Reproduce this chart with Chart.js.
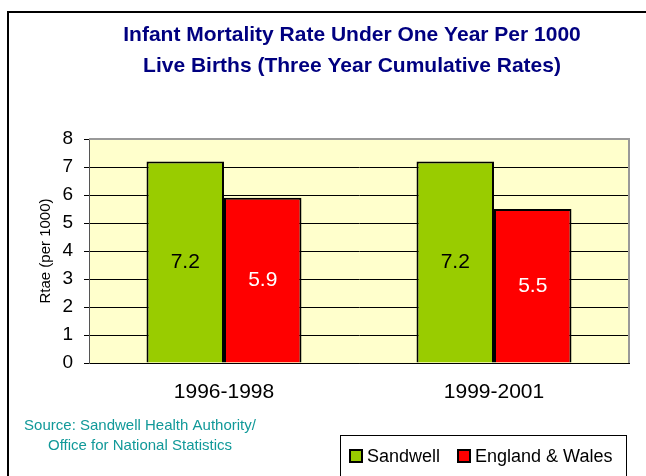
<!DOCTYPE html>
<html>
<head>
<meta charset="utf-8">
<script src="https://cdn.jsdelivr.net/npm/chart.js@4.4.1/dist/chart.umd.min.js"></script>
<style>
  body { margin: 0; background: #fff; }
  #wrap { width: 646px; height: 476px; }
</style>
</head>
<body>
<div id="wrap"><canvas id="myChart" width="646" height="476"></canvas></div>
<script>
//chart data
var periods = ['1996-1998', '1999-2001'];
var sandwellRates = [7.2, 7.2];
var englandWalesRates = [5.9, 5.5];
var seriesNames = ['Sandwell', 'England & Wales'];
var seriesColors = ['#99CC00', '#FF0000'];
var labelColors = ['#000000', '#FFFFFF'];
var yTicks = [0, 1, 2, 3, 4, 5, 6, 7, 8];

var titleLines = ['Infant Mortality Rate Under One Year Per 1000', 'Live Births (Three Year Cumulative Rates)'];
var sourceLines = ['Source: Sandwell Health Authority/', 'Office for National Statistics'];

var fontName = '"Liberation Sans", Arial, sans-serif';

//frame, title, source text and legend drawn around the chart
var decorations = {
  id: 'decorations',
  beforeDraw: (chart) => {
    var ctx = chart.ctx;
    var a = chart.chartArea;
    ctx.save();
    ctx.fillStyle = '#FFFFCC';
    ctx.fillRect(a.left, a.top, a.right - a.left, a.bottom - a.top);
    ctx.restore();
  },
  beforeDatasetsDraw: (chart) => {
    var ctx = chart.ctx;
    var a = chart.chartArea;
    ctx.save();
    ctx.strokeStyle = '#999999';
    ctx.lineWidth = 2;
    ctx.beginPath();
    ctx.moveTo(a.left, a.top);
    ctx.lineTo(a.right, a.top);
    ctx.lineTo(a.right, a.bottom);
    ctx.stroke();
    ctx.restore();
  },
  afterDraw: (chart) => {
    var ctx = chart.ctx;
    ctx.save();
    //outer frame
    ctx.strokeStyle = '#000';
    ctx.lineWidth = 2;
    ctx.beginPath();
    ctx.moveTo(8, 480);
    ctx.lineTo(8, 12);
    ctx.lineTo(650, 12);
    ctx.stroke();

    //title
    ctx.fillStyle = '#000080';
    ctx.font = 'bold 21px ' + fontName;
    ctx.textAlign = 'center';
    ctx.textBaseline = 'middle';
    ctx.fillText(titleLines[0], 352, 35);
    ctx.fillText(titleLines[1], 352, 66);

    //source
    ctx.fillStyle = '#119999';
    ctx.font = '15px ' + fontName;
    ctx.fillText(sourceLines[0], 140, 426);
    ctx.fillText(sourceLines[1], 140, 446);

    //legend
    ctx.strokeStyle = '#000';
    ctx.lineWidth = 1;
    ctx.strokeRect(340.5, 435.5, 286, 60);
    var lx = [350, 458];
    ctx.font = '18px ' + fontName;
    ctx.textAlign = 'left';
    for (var i = 0; i < chart.data.datasets.length; i++) {
      var ds = chart.data.datasets[i];
      ctx.fillStyle = ds.backgroundColor;
      ctx.fillRect(lx[i], 450, 12, 12);
      ctx.lineWidth = 2;
      ctx.strokeRect(lx[i], 450, 12, 12);
      ctx.fillStyle = '#000';
      ctx.fillText(ds.label, lx[i] + 17, 457);
    }
    ctx.restore();
  },
  afterDatasetsDraw: (chart) => {
    var ctx = chart.ctx;
    ctx.save();
    ctx.font = '21px ' + fontName;
    ctx.textAlign = 'center';
    ctx.textBaseline = 'middle';
    chart.data.datasets.forEach(function (ds, i) {
      chart.getDatasetMeta(i).data.forEach(function (bar, j) {
        ctx.fillStyle = labelColors[i];
        ctx.fillText(ds.data[j].toFixed(1), bar.x, (bar.y + bar.base) / 2);
      });
    });
    ctx.restore();
  }
};

var ctx = document.getElementById('myChart').getContext('2d');
var myChart = new Chart(ctx, {
  type: 'bar',
  data: {
    labels: periods,
    datasets: [{
      label: seriesNames[0],
      data: sandwellRates,
      backgroundColor: seriesColors[0],
      borderColor: '#000',
      borderWidth: 2,
    }, {
      label: seriesNames[1],
      data: englandWalesRates,
      backgroundColor: seriesColors[1],
      borderColor: '#000',
      borderWidth: 2,
    }],
  },
  options: {
    responsive: false,
    animation: false,
    layout: {
      padding: { left: 8, top: 139, right: 17, bottom: 0 }
    },
    datasets: {
      bar: { categoryPercentage: 0.574, barPercentage: 1 }
    },
    plugins: {
      legend: { display: false },
      title: { display: false },
      tooltip: { enabled: false }
    },
    scales: {
      x: {
        afterFit: (scale) => { scale.height = 113; },
        grid: { display: false },
        border: { color: '#000', width: 1 },
        ticks: {
          color: '#000',
          padding: 9,
          font: { family: fontName, size: 21 }
        }
      },
      y: {
        min: 0,
        max: 8,
        afterFit: (scale) => { scale.width = 81; },
        afterBuildTicks: (scale) => { scale.ticks = yTicks.map(v => ({ value: v })); },
        grid: { color: '#000', lineWidth: 1, tickLength: 5 },
        border: { color: '#555', width: 1 },
        ticks: {
          color: '#000',
          padding: 11,
          font: { family: fontName, size: 19 }
        },
        title: {
          display: true,
          text: 'Rtae (per 1000)',
          color: '#000',
          padding: { top: 29, bottom: 0 },
          font: { family: fontName, size: 15 }
        }
      }
    }
  },
  plugins: [decorations]
});
</script>
</body>
</html>
